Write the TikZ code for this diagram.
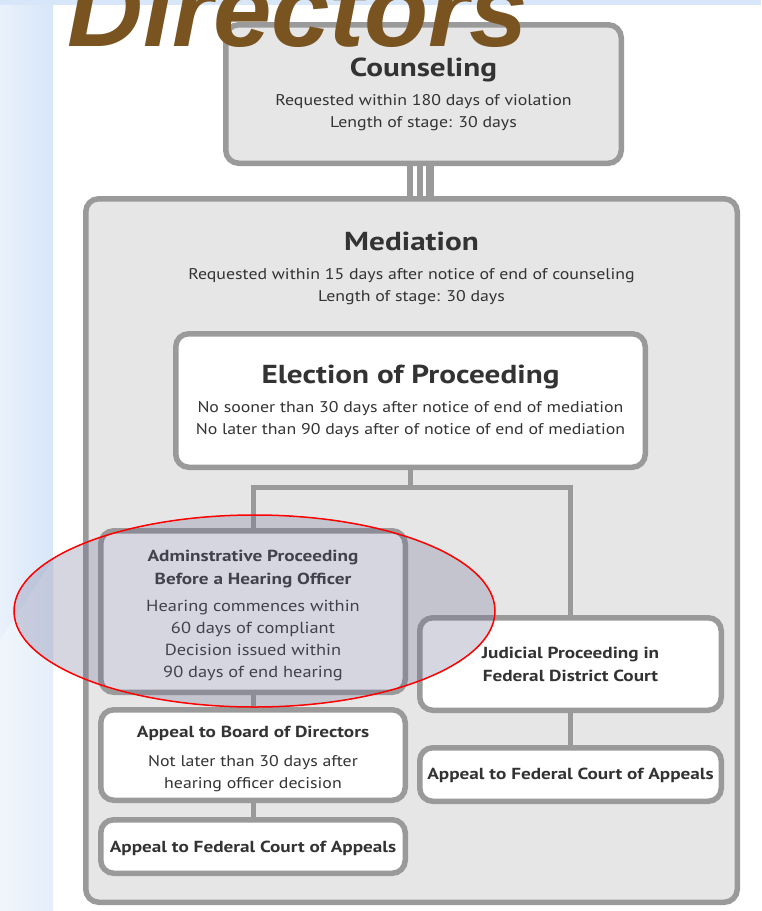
\documentclass[tikz,border=0pt]{standalone}
\usepackage{fontspec}
\setmainfont{PT Sans}[FakeStretch=1.15, BoldFeatures={FakeStretch=1.2}]
\newfontfamily\dirfont{Liberation Sans}
\usetikzlibrary{shapes.geometric}
\definecolor{edge}{HTML}{9A9A9A}
\definecolor{panel}{HTML}{E6E6E6}
\definecolor{ink}{HTML}{333333}
\definecolor{bandblue}{HTML}{D7E6F9}
\definecolor{bandlight}{HTML}{E9F1FB}
\definecolor{dirbrown}{HTML}{7A5420}
\definecolor{haze}{RGB}{108,108,144}
\begin{document}
\begin{tikzpicture}[x=1pt,y=-1pt,
  stage/.style={draw=edge, line width=5.5pt, rounded corners=13pt,
    inner sep=0pt, outer sep=0pt, anchor=north west},
  link/.style={draw=edge, line width=5pt},
  head/.style={font=\bfseries\fontsize{26}{30}\selectfont, text=ink, inner sep=0pt, anchor=base},
  subhead/.style={font=\bfseries\fontsize{16}{23}\selectfont, text=ink, inner sep=0pt, anchor=base, align=center},
  note/.style={font=\fontsize{15.5}{21.5}\selectfont, text=ink, inner sep=0pt, anchor=base, align=center},
  bodynote/.style={font=\fontsize{16}{21.7}\selectfont, text=ink, inner sep=0pt, anchor=base, align=center},
]
\clip (0,0) rectangle (761,911);
\fill[white] (0,0) rectangle (761,911);
% page backdrop
\shade[left color=bandlight, right color=bandblue] (0,0) rectangle (53,911);
\fill[bandblue] (0,0) rectangle (761,5);
\fill[white, opacity=0.35] (0,640) -- (53,560) -- (53,911) -- (0,911) -- cycle;

% stage boxes
\node[stage, fill=panel, minimum width=395.5, minimum height=138.5] (cns) at (225.75,24.75) {};
\node[stage, fill=panel, minimum width=651.5, minimum height=703.5] (med) at (85.75,198.75) {};
\node[stage, fill=white, minimum width=469.5, minimum height=133.5] (elc) at (175.75,333.75) {};
\node[stage, fill=white, minimum width=304.5, minimum height=161.5] (adm) at (100.75,530.75) {};
\node[stage, fill=white, minimum width=301.5, minimum height=92.5] (jud) at (419.75,617.75) {};
\node[stage, fill=white, minimum width=301.5, minimum height=53.5] (apr) at (419.75,747.75) {};
\node[stage, fill=white, minimum width=304.5, minimum height=90.5] (brd) at (100.75,709.75) {};
\node[stage, fill=white, minimum width=304.5, minimum height=53.5] (apl) at (100.75,819.75) {};

% triple bar from counseling to mediation
\coordinate (b1) at ([xshift=-13.5pt]cns.south);
\coordinate (b2) at ([xshift=-3.5pt]cns.south);
\coordinate (b3) at ([xshift=6.5pt]cns.south);
\draw[edge, line width=6pt] (b1) -- (b1 |- med.north);
\draw[edge, line width=6pt] (b2) -- (b2 |- med.north);
\draw[edge, line width=8pt] (b3) -- (b3 |- med.north);

% branching connectors
\draw[link] (elc.south) -- ++(0,20) coordinate (split);
\draw[link] (adm.north) |- (split) -| (jud.north);
\draw[link] (adm.south) -- (brd.north);
\draw[link] (brd.south) -- (apl.north);
\draw[link] (jud.south) -- (apr.north);

% texts (multi-line blocks sit on the baseline of their last line)
\node[head] (cnsT) at (423.5,76) {Counseling};
\node[note] (cnsN) at (423.5,127) {Requested within 180 days of violation\\Length of stage: 30 days};
\node[head] (medT) at (411.5,250) {Mediation};
\node[note] (medN) at (411.5,301) {Requested within 15 days after notice of end of counseling\\Length of stage: 30 days};
\node[head] (elcT) at (410.5,383) {Election of Proceeding};
\node[note] (elcN) at (410.5,434) {No sooner than 30 days after notice of end of mediation\\No later than 90 days after of notice of end of mediation};
\node[subhead] (admT) at (253,584) {Adminstrative Proceeding\\Before a Hearing Officer};
\node[bodynote] (admN) at (253,677) {Hearing commences within\\60 days of compliant\\Decision issued within\\90 days of end hearing};
\node[subhead] (judT) at (570.5,681) {Judicial Proceeding in\\Federal District Court};
\node[subhead] (aprT) at (570.5,779) {Appeal to Federal Court of Appeals};
\node[subhead] (brdT) at (253,737) {Appeal to Board of Directors};
\node[note] (brdN) at (253,788) {Not later than 30 days after\\hearing officer decision};
\node[subhead] (aplT) at (253,852) {Appeal to Federal Court of Appeals};

% highlight around the administrative route
\node[ellipse, draw=red, line width=1.5pt, fill=haze, fill opacity=0.28,
  minimum width=481, minimum height=192, inner sep=0pt] (focus) at (254.5,611) {};

% heading fragment
\node[font=\dirfont\bfseries\itshape\fontsize{105}{105}\selectfont, text=dirbrown,
  inner sep=0pt, anchor=base west] (dir) at (67,46) {Directors};
\end{tikzpicture}
\end{document}
